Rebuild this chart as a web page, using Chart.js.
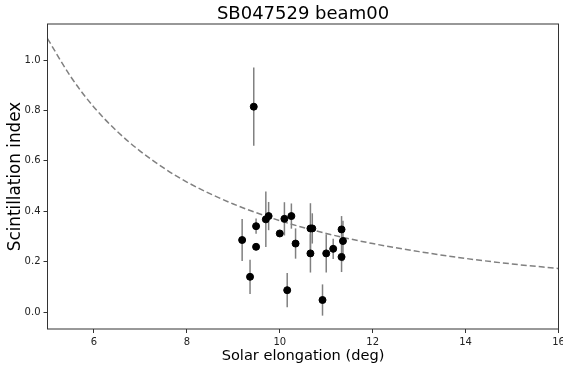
<!DOCTYPE html>
<html>
<head>
<meta charset="utf-8">
<script src="https://cdn.jsdelivr.net/npm/chart.js@4.4.1/dist/chart.umd.min.js"></script>
<style>
  html, body { margin: 0; padding: 0; background: #fff; overflow: hidden; }
  canvas { display: block; }
</style>
</head>
<body>
<canvas id="chart" width="563" height="365"></canvas>
<script>
// measured points: solar elongation, scintillation index, error
const elong = [9.19, 9.36, 9.44, 9.49, 9.49, 9.70, 9.76, 10.00, 10.10, 10.16, 10.25,
               10.34, 10.66, 10.70, 10.66, 10.92, 11.00, 11.15, 11.33, 11.36, 11.33];
const sIndex = [0.286, 0.140, 0.815, 0.341, 0.259, 0.368, 0.381, 0.312, 0.370, 0.087, 0.381,
                0.272, 0.332, 0.332, 0.233, 0.048, 0.233, 0.251, 0.328, 0.282, 0.219];
const sErr = [0.083, 0.068, 0.155, 0.030, 0.012, 0.110, 0.056, 0.010, 0.066, 0.068, 0.050,
              0.060, 0.100, 0.060, 0.076, 0.062, 0.076, 0.040, 0.053, 0.080, 0.060];

// dashed model curve
const curveX = [5, 5.5, 6, 6.5, 7, 7.5, 8, 9, 10, 11, 12, 13, 14, 15, 16];
const curveY = [1.085, 0.934, 0.813, 0.717, 0.638, 0.572, 0.516, 0.429, 0.363, 0.312, 0.272, 0.240, 0.213, 0.191, 0.173];

const xTicks = [6, 8, 10, 12, 14, 16];
const yTicks = [0.0, 0.2, 0.4, 0.6, 0.8, 1.0];

const titleText = 'SB047529 beam00';
const FONT = "'DejaVu Sans', sans-serif";

// error bars + frame + title
const extras = {
    id: 'extras',
    beforeDatasetsDraw(chart) {
        const ctx = chart.ctx;
        const xs = chart.scales.x, ys = chart.scales.y;
        ctx.save();
        ctx.strokeStyle = '#808080';
        ctx.lineWidth = 1.5;
        elong.forEach((e, i) => {
            const px = xs.getPixelForValue(e);
            ctx.beginPath();
            ctx.moveTo(px, ys.getPixelForValue(sIndex[i] - sErr[i]));
            ctx.lineTo(px, ys.getPixelForValue(sIndex[i] + sErr[i]));
            ctx.stroke();
        });
        ctx.restore();
    },
    afterDraw(chart) {
        const ctx = chart.ctx;
        const a = chart.chartArea;
        ctx.save();
        ctx.strokeStyle = '#333';
        ctx.lineWidth = 1;
        ctx.strokeRect(a.left, a.top, a.right - a.left, a.bottom - a.top);
        ctx.fillStyle = '#000';
        ctx.font = '18px ' + FONT;
        ctx.textAlign = 'center';
        ctx.textBaseline = 'middle';
        ctx.fillText(titleText, (a.left + a.right) / 2, 14);
        ctx.restore();
    }
};

// no side padding for the x axis, so the "16" label gets cut like in matplotlib
const noPad = () => ({ left: 0, top: 0, right: 0, bottom: 0 });

new Chart(document.getElementById('chart'), {
    type: 'scatter',
    data: {
        datasets: [
            {
                label: 'data',
                data: elong.map((e, i) => ({ x: e, y: sIndex[i] })),
                backgroundColor: '#000',
                borderColor: '#000',
                pointRadius: 3.5,
                pointHoverRadius: 3.5,
                order: 0
            },
            {
                type: 'line',
                label: 'model',
                data: curveX.map((e, i) => ({ x: e, y: curveY[i] })),
                borderColor: '#808080',
                borderWidth: 1.5,
                borderDash: [6, 3],
                pointRadius: 0,
                fill: false,
                cubicInterpolationMode: 'monotone',
                order: 1
            }
        ]
    },
    options: {
        responsive: false,
        animation: false,
        devicePixelRatio: 1,
        layout: { padding: { top: 24, right: 3, left: 0, bottom: 0 } },
        plugins: { legend: { display: false }, tooltip: { enabled: false }, title: { display: false } },
        scales: {
            x: {
                type: 'linear',
                min: 5, max: 16,
                afterBuildTicks: s => { s.ticks = xTicks.map(v => ({ value: v })); },
                afterFit: s => { s.height = 36; s.paddingLeft = 0; s.paddingRight = 0; s.getPadding = noPad; },
                grid: { drawOnChartArea: false, drawTicks: true, tickLength: 4, color: '#333' },
                border: { display: false },
                ticks: { color: '#222', font: { family: FONT, size: 10 }, padding: 3, maxRotation: 0 },
                title: { display: true, text: 'Solar elongation (deg)', color: '#000',
                         font: { family: FONT, size: 14.6 }, padding: { top: 0, bottom: 0 } }
            },
            y: {
                type: 'linear',
                min: -0.067, max: 1.143,
                afterBuildTicks: s => { s.ticks = yTicks.map(v => ({ value: v })); },
                afterFit: s => { s.width = 47.5; s.paddingTop = 0; s.paddingBottom = 0; s.getPadding = noPad; },
                grid: { drawOnChartArea: false, drawTicks: true, tickLength: 4, color: '#333' },
                border: { display: false },
                ticks: { color: '#222', font: { family: FONT, size: 10 }, padding: 3,
                         callback: v => v.toFixed(1) },
                title: { display: true, text: 'Scintillation index', color: '#000',
                         font: { family: FONT, size: 16.8 }, padding: { top: 6, bottom: 0 } }
            }
        }
    },
    plugins: [extras]
});
</script>
</body>
</html>
